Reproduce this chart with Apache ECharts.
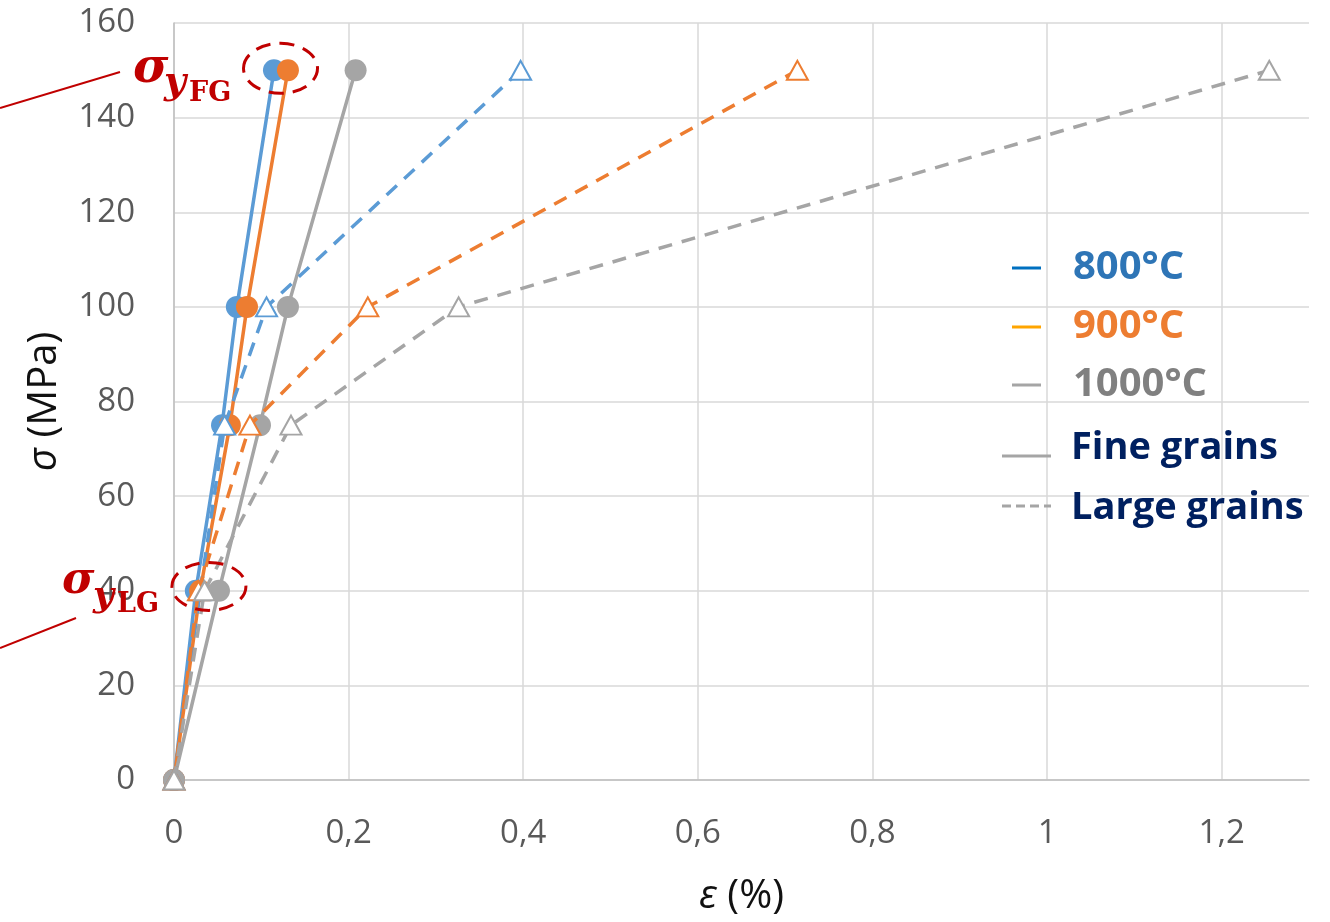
<!DOCTYPE html>
<html>
<head>
<meta charset="utf-8">
<script src="https://cdn.jsdelivr.net/npm/echarts@6/dist/echarts.min.js"></script>
<style>
html,body{margin:0;padding:0;background:#fff;}
#chart{width:1330px;height:922px;}
</style>
</head>
<body>
<div id="chart"></div>
<script>
// ---- Data ----
const stressLevels = [0, 40, 75, 100, 150];           // σ (MPa)
const fine800  = [0, 0.025, 0.055, 0.072, 0.1145];   // ε (%) fine grains
const fine900  = [0, 0.030, 0.064, 0.0836, 0.1305];
const fine1000 = [0, 0.0515, 0.0985, 0.1305, 0.208];
const large800  = [0, 0.030, 0.058, 0.106, 0.397];   // ε (%) large grains
const large900  = [0, 0.028, 0.087, 0.222, 0.714];
const large1000 = [0, 0.035, 0.134, 0.326, 1.2545];
const tempLabels = ['800°C', '900°C', '1000°C'];
const grainLabels = ['Fine grains', 'Large grains'];
const yieldFG = [0.122, 150];   // annotated yield point, fine grains
const yieldLG = [0.040, 40.5];  // annotated yield point, large grains

const colors = ['#5B9BD5', '#ED7D31', '#A5A5A5'];
const legendLineColors = ['#0070C0', '#FFA500', '#A5A5A5'];
const legendTextColors = ['#2E75B6', '#ED7D31', '#808080'];

function pairs(xs) { return xs.map((x, i) => [x, stressLevels[i]]); }

const fineSets = [fine800, fine900, fine1000];
const largeSets = [large800, large900, large1000];

const series = [];
fineSets.forEach((arr, i) => {
  series.push({
    name: tempLabels[i] + ' fine', type: 'line', data: pairs(arr),
    symbol: 'circle', symbolSize: 22,
    lineStyle: { color: colors[i], width: 3.5 },
    itemStyle: { color: colors[i] },
    z: 2 + i, animation: false
  });
});
largeSets.forEach((arr, i) => {
  series.push({
    name: tempLabels[i] + ' large', type: 'line', data: pairs(arr),
    symbol: 'triangle', symbolSize: [21, 19],
    lineStyle: { color: colors[i], width: 3.5, type: [14, 10] },
    itemStyle: { color: '#ffffff', borderColor: colors[i], borderWidth: 2 },
    z: 5 + i, animation: false
  });
});

const chart = echarts.init(document.getElementById('chart'), null, { renderer: 'canvas' });

const option = {
  backgroundColor: '#ffffff',
  animation: false,
  grid: { left: 174, right: 21, top: 23, bottom: 140 },
  xAxis: {
    type: 'value', min: 0, max: 1.3, interval: 0.2,
    axisLine: { show: true, lineStyle: { color: '#BFBFBF', width: 1.5 } },
    axisTick: { show: false },
    splitLine: { show: true, showMaxLine: false, lineStyle: { color: '#D9D9D9', width: 1.5 } },
    axisLabel: {
      fontSize: 33, color: '#595959', fontFamily: 'Open Sans', margin: 37,
      showMaxLabel: false,
      formatter: v => String(+v.toFixed(2)).replace('.', ',')
    },
    name: '{i|ε} (%)', nameLocation: 'middle', nameGap: 97,
    nameTextStyle: {
      fontSize: 40, color: '#111111', fontFamily: 'Open Sans',
      rich: { i: { fontSize: 40, fontStyle: 'italic', color: '#111111', fontFamily: 'Open Sans' } }
    }
  },
  yAxis: {
    type: 'value', min: 0, max: 160, interval: 20,
    axisLine: { show: true, lineStyle: { color: '#BFBFBF', width: 1.5 } },
    axisTick: { show: false },
    splitLine: { show: true, lineStyle: { color: '#D9D9D9', width: 1.5 } },
    axisLabel: { fontSize: 33, color: '#595959', fontFamily: 'Open Sans', margin: 39 },
    name: '{i|σ} (MPa)', nameLocation: 'middle', nameGap: 109, nameRotate: 90,
    nameTextStyle: {
      fontSize: 40, color: '#111111', fontFamily: 'Open Sans',
      rich: { i: { fontSize: 40, fontStyle: 'italic', color: '#111111', fontFamily: 'Open Sans' } }
    }
  },
  series: series
};
chart.setOption(option);

// ---- Legend (custom, drawn as graphics) ----
const legendEls = [];
const tempRowsY = [268, 327, 385];
tempLabels.forEach((t, i) => {
  legendEls.push({
    type: 'line', shape: { x1: 1012, y1: tempRowsY[i], x2: 1041, y2: tempRowsY[i] },
    style: { stroke: legendLineColors[i], lineWidth: 3 }
  });
  legendEls.push({
    type: 'text', x: 1073, y: tempRowsY[i],
    style: { text: t, fill: legendTextColors[i], font: 'bold 40px "Open Sans"', verticalAlign: 'middle', align: 'left' }
  });
});
const grainRowsY = [448, 508];
grainLabels.forEach((g, i) => {
  legendEls.push({
    type: 'line', shape: { x1: 1002, y1: grainRowsY[i] + 8 - i * 10, x2: 1051, y2: grainRowsY[i] + 8 - i * 10 },
    style: { stroke: '#A5A5A5', lineWidth: 3, lineDash: i === 1 ? [9, 5] : null }
  });
  legendEls.push({
    type: 'text', x: 1071, y: grainRowsY[i],
    style: { text: g, fill: '#002060', font: 'bold 38px "Open Sans"', verticalAlign: 'middle', align: 'left' }
  });
});

// ---- Yield annotations ----
const red = '#C00000';
const pFG = chart.convertToPixel({ gridIndex: 0 }, yieldFG);
const pLG = chart.convertToPixel({ gridIndex: 0 }, yieldLG);
function redText(txt, x, y, font) {
  return { type: 'text', x: x, y: y, z: 20,
    style: { text: txt, fill: red, font: font, verticalAlign: 'middle', align: 'left' } };
}
const annot = [
  { type: 'ellipse', shape: { cx: pFG[0], cy: pFG[1] - 2, rx: 37, ry: 25 },
    style: { fill: 'none', stroke: red, lineWidth: 3, lineDash: [15, 9] }, z: 20 },
  { type: 'ellipse', shape: { cx: pLG[0], cy: pLG[1] - 2, rx: 37, ry: 24 },
    style: { fill: 'none', stroke: red, lineWidth: 3, lineDash: [15, 9] }, z: 20 },
  { type: 'line', shape: { x1: 0, y1: 108, x2: 120, y2: 72 }, style: { stroke: red, lineWidth: 2 }, z: 20 },
  { type: 'line', shape: { x1: 0, y1: 648, x2: 76, y2: 618 }, style: { stroke: red, lineWidth: 2 }, z: 20 },
  // σ_y FG
  redText('σ', 133, 70, 'italic bold 48px "DejaVu Serif"'),
  redText('y', 164, 83, 'italic bold 38px "DejaVu Serif"'),
  redText('FG', 189, 94, 'bold 27px "DejaVu Serif"'),
  // σ_y LG
  redText('σ', 62, 582, 'italic bold 44px "DejaVu Serif"'),
  redText('y', 93, 597, 'italic bold 36px "DejaVu Serif"'),
  redText('LG', 117, 605, 'bold 27px "DejaVu Serif"')
];

chart.setOption({ graphic: { elements: legendEls.concat(annot) } });
</script>
</body>
</html>
